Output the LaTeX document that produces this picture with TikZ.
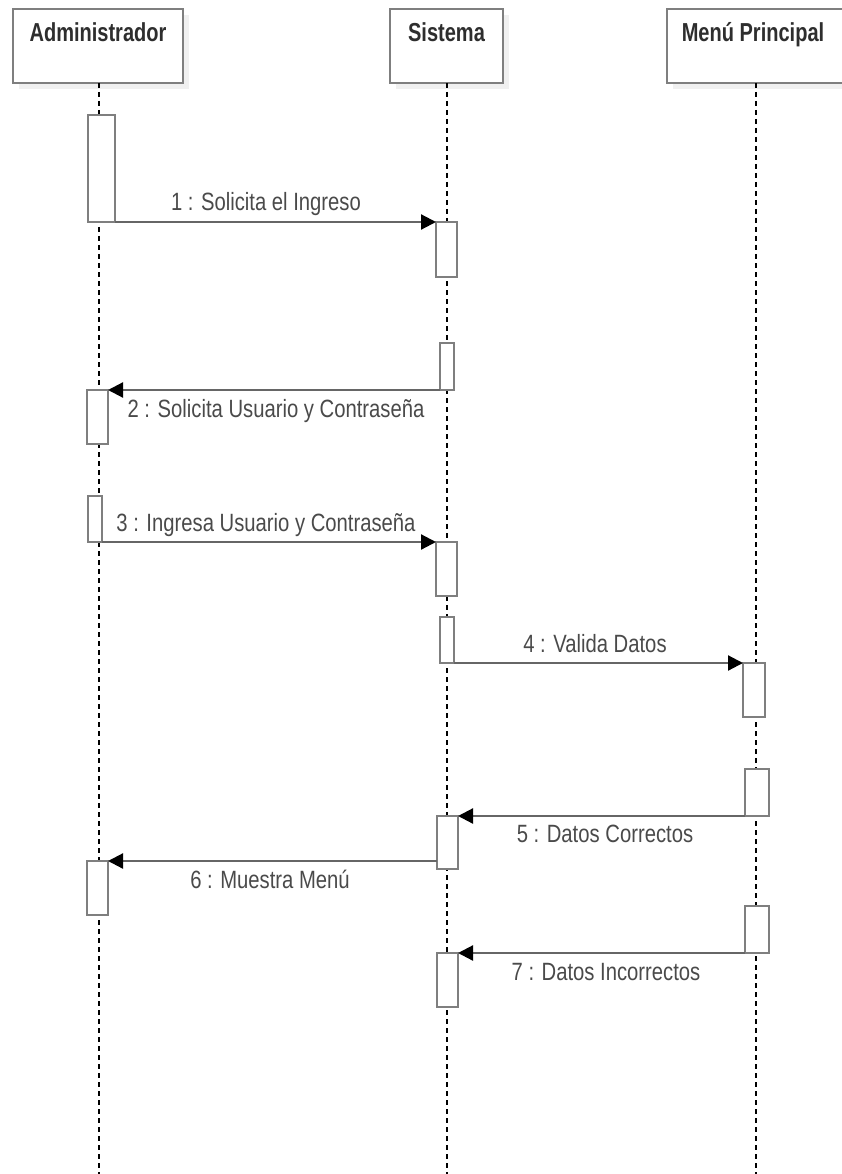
\documentclass[tikz,border=0pt]{standalone}
\usepackage{fontspec}
\setmainfont{Liberation Sans}
\newfontfamily\labelfont[FakeStretch=0.81]{Liberation Sans}
\newfontfamily\titlefont[FakeStretch=0.77]{Liberation Sans Bold}
\usetikzlibrary{arrows.meta}
\definecolor{boxgray}{HTML}{7F7F7F}
\definecolor{linegray}{HTML}{666666}
\definecolor{txtgray}{HTML}{4A4A4A}
\tikzset{
  head/.style={draw=boxgray, line width=2pt, fill=white, anchor=north west, inner sep=0pt, outer sep=0pt},
  headshadow/.style={fill=black!6, draw=none, anchor=north west, inner sep=0pt},
  title/.style={text=black!82, font=\titlefont\fontsize{26}{26}\selectfont, inner sep=0pt, anchor=base},
  act/.style={draw=boxgray, line width=2pt, fill=white, anchor=north west, inner sep=0pt, outer sep=0pt},
  life/.style={draw=black, line width=1.1pt, dash pattern=on 5pt off 4pt},
  msg/.style={draw=linegray, line width=2.2pt, -{Triangle[length=15pt,width=15pt,fill=black,color=black]}},
  lbl/.style={text=txtgray, font=\labelfont\fontsize{25}{25}\selectfont, inner sep=0pt, anchor=base},
}
\begin{document}
\begin{tikzpicture}[x=1pt,y=-1pt]
\useasboundingbox (0,0) rectangle (841,1174);
% lifeline heads
\node[headshadow, minimum width=170pt, minimum height=74pt] (Ash) at (19,15) {};
\node[headshadow, minimum width=113pt, minimum height=74pt] (Ssh) at (396,15) {};
\node[headshadow, minimum width=178pt, minimum height=74pt] (Msh) at (673,15) {};
\node[head, minimum width=170pt, minimum height=74pt] (A) at (13,9) {};
\node[head, minimum width=113pt, minimum height=74pt] (S) at (390,9) {};
\node[head, minimum width=178pt, minimum height=74pt] (M) at (667,9) {};
\node[title] (At) at (98,42) {Administrador};
\node[title] (St) at (446.5,42) {Sistema};
\node[title] (Mt) at (753,42) {Menú Principal};
% lifelines
\coordinate (Aend) at (99,1174);
\coordinate (Send) at (447,1174);
\coordinate (Mend) at (756,1174);
\draw[life] (A.south -| Aend) -- (Aend);
\draw[life] (S.south -| Send) -- (Send);
\draw[life] (M.south -| Mend) -- (Mend);
% activation boxes
\node[act, minimum width=27pt, minimum height=107pt] (a1) at (88,115) {};
\node[act, minimum width=21pt, minimum height=55pt]  (s1) at (436,222) {};
\node[act, minimum width=14pt, minimum height=47pt]  (s2) at (440,343) {};
\node[act, minimum width=21pt, minimum height=54pt]  (a2) at (87,390) {};
\node[act, minimum width=14pt, minimum height=46pt]  (a3) at (88,496) {};
\node[act, minimum width=21pt, minimum height=54pt]  (s3) at (436,542) {};
\node[act, minimum width=14pt, minimum height=46pt]  (s4) at (440,617) {};
\node[act, minimum width=22pt, minimum height=54pt]  (m4) at (743,663) {};
\node[act, minimum width=24pt, minimum height=47pt]  (m5) at (745,769) {};
\node[act, minimum width=21pt, minimum height=53pt]  (s5) at (437,816) {};
\node[act, minimum width=21pt, minimum height=54pt]  (a6) at (87,861) {};
\node[act, minimum width=24pt, minimum height=47pt]  (m7) at (745,906) {};
\node[act, minimum width=21pt, minimum height=54pt]  (s7) at (437,953) {};
% messages
\draw[msg] (a1.south east) -- (s1.north west);
\draw[msg] (s2.south west) -- (a2.north east);
\draw[msg] (a3.south east) -- (s3.north west);
\draw[msg] (s4.south east) -- (m4.north west);
\draw[msg] (m5.south west) -- (s5.north east);
\draw[msg] (s5.west |- a6.north) -- (a6.north east);
\draw[msg] (m7.south west) -- (s7.north east);
% labels
\node[lbl] (l1) at (266,211) {1 : Solicita el Ingreso};
\node[lbl] (l2) at (276,417) {2 : Solicita Usuario y Contraseña};
\node[lbl] (l3) at (266,531) {3 : Ingresa Usuario y Contraseña};
\node[lbl] (l4) at (595,652) {4 : Valida Datos};
\node[lbl] (l5) at (605,842) {5 : Datos Correctos};
\node[lbl] (l6) at (270,888) {6 : Muestra Menú};
\node[lbl] (l7) at (606,980) {7 : Datos Incorrectos};
\end{tikzpicture}
\end{document}
